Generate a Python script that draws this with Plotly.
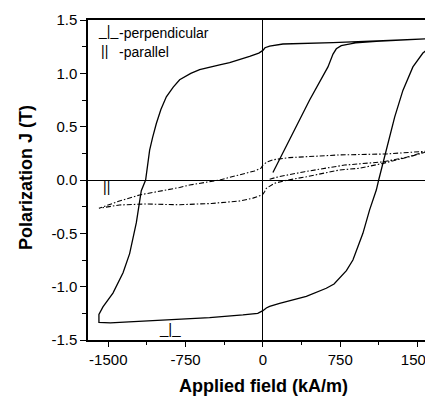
import plotly.graph_objects as go

# Perpendicular: virgin curve then full loop (solid)
perp_H = [97, 291, 453, 631, 680, 712, 760, 809, 900, 1100, 1300, 1595,
          1400, 1165, 680, 194, 65, 20, 0, -40, -129, -323, -420, -517, -614, -700, -750, -808, -870, -937, -990,
          -1034, -1070, -1099,
          -1138, -1180, -1228, -1293, -1357, -1455, -1552, -1591,
          -1591, -1480, -1300, -1099, -750, -517, -194, -50, 0, 33, 65, 162, 421, 615, 690, 744, 810, 873, 920,
          970, 1035, 1100, 1123, 1197, 1278, 1358, 1410, 1455, 1552, 1591]
perp_J = [0.07, 0.44, 0.75, 1.06, 1.18, 1.23, 1.26, 1.27, 1.285, 1.30, 1.31, 1.325,
          1.318, 1.306, 1.287, 1.275, 1.256, 1.24, 1.215, 1.19, 1.16, 1.10, 1.08, 1.055, 1.035, 1.0, 0.975, 0.94, 0.87, 0.78, 0.66,
          0.53, 0.40, 0.28,
          0.0, -0.10, -0.40, -0.69, -0.87, -1.06, -1.19, -1.26,
          -1.335, -1.34, -1.33, -1.32, -1.305, -1.29, -1.265, -1.25, -1.225, -1.20, -1.185, -1.156, -1.09, -1.015, -0.975, -0.92, -0.85, -0.75, -0.63,
          -0.50, -0.28, -0.094, 0.0, 0.28, 0.59, 0.84, 0.96, 1.06, 1.19, 1.22]

# Parallel: virgin curve then loop (dash-dot)
par_H = [65, 150, 405, 793, 1165, 1400, 1591,
         1400, 1197, 744, 400, 259, 100, 40, 0, -20, -81, -226, -420, -711, -808, -1196, -1400, -1591,
         -1500, -1391, -1131, -808, -500, -226, -97, -6, 16, 33, 113, 243, 421, 744, 938, 1165, 1423, 1591]
par_J = [0.007, 0.03, 0.078, 0.14, 0.17, 0.215, 0.27,
         0.26, 0.244, 0.235, 0.22, 0.21, 0.19, 0.17, 0.14, 0.11, 0.085, 0.047, 0.0, -0.047, -0.07, -0.14, -0.20, -0.265,
         -0.25, -0.234, -0.225, -0.232, -0.22, -0.197, -0.17, -0.14, -0.11, -0.078, -0.03, 0.0, 0.03, 0.094, 0.11, 0.156, 0.218, 0.265]

x_ticks = [-1500, -750, 0, 750, 1500]
y_ticks = [-1.5, -1.0, -0.5, 0.0, 0.5, 1.0, 1.5]

FONT = "Liberation Sans, Arial, sans-serif"

fig = go.Figure()
fig.add_trace(go.Scatter(x=perp_H, y=perp_J, mode="lines",
                         line=dict(color="black", width=1.3), showlegend=False))
fig.add_trace(go.Scatter(x=par_H, y=par_J, mode="lines",
                         line=dict(color="black", width=1.1, dash="5px,2px,1.5px,2px"), showlegend=False))

# page body has an 8px margin; figure is sized/placed so plot area matches reference pixels
OFF = 8
L, T, B = 80, 12, 56
W, H = 425, 388
pw, ph = W - L, H - T - B

def px(x):
    return (x - OFF - L) / pw

def py(y):
    return (H - B - (y - OFF)) / ph

anns = [
    dict(text="_|_", x=px(96), y=py(31), xanchor="left", yanchor="middle", font=dict(size=14)),
    dict(text="-perpendicular", x=px(117), y=py(33), xanchor="left", yanchor="middle", font=dict(size=14)),
    dict(text="||", x=px(99), y=py(51), xanchor="left", yanchor="middle", font=dict(size=14)),
    dict(text="-parallel", x=px(117), y=py(52), xanchor="left", yanchor="middle", font=dict(size=14)),
    dict(text="||", x=px(101), y=py(187), xanchor="left", yanchor="middle", font=dict(size=14)),
    dict(text="_|_", x=px(157), y=py(328), xanchor="left", yanchor="middle", font=dict(size=15)),
    dict(text="<b>Applied field (kA/m)</b>", x=px(263), y=py(386), xanchor="center", yanchor="middle",
         font=dict(size=18)),
    dict(text="<b>Polarization J (T)</b>", x=px(26), y=py(178), xanchor="center", yanchor="middle",
         textangle=-90, font=dict(size=18)),
]
for a in anns:
    a.update(xref="paper", yref="paper", showarrow=False)
    a["font"].update(family=FONT, color="black")

fig.update_layout(
    width=W, height=H,
    margin=dict(l=L, r=0, t=T, b=B),
    paper_bgcolor="white", plot_bgcolor="white",
    font=dict(family=FONT, color="black", size=15),
    annotations=anns,
    xaxis=dict(range=[-1697, 1650], tickvals=x_ticks, ticktext=[str(v) for v in x_ticks],
               ticks="outside", ticklen=5, tickwidth=1.2, tickcolor="black",
               minor=dict(dtick=375, tick0=0, ticks="outside", ticklen=3, tickwidth=1.2, tickcolor="black"),
               showline=True, linecolor="black", linewidth=1.5, mirror=True,
               showgrid=False, zeroline=True, zerolinecolor="black", zerolinewidth=1.3,
               ticklabeloverflow="allow", tickfont=dict(size=15)),
    yaxis=dict(range=[-1.5, 1.5], tickvals=y_ticks, ticktext=[f"{v:.1f}" for v in y_ticks],
               ticks="outside", ticklen=6, tickwidth=1.2, tickcolor="black",
               minor=dict(dtick=0.25, tick0=0, ticks="outside", ticklen=4, tickwidth=1.2, tickcolor="black"),
               showline=True, linecolor="black", linewidth=1.5, mirror=False,
               showgrid=False, zeroline=True, zerolinecolor="black", zerolinewidth=1.3,
               tickfont=dict(size=15)),
)

fig.write_html("out.html")
